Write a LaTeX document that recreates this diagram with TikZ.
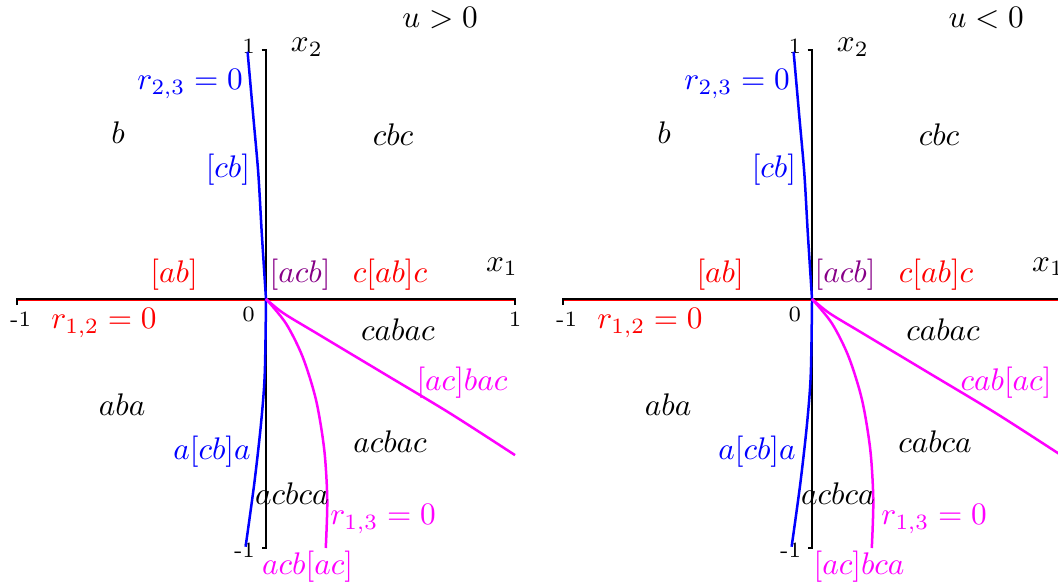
\documentclass[tikz,border=0pt]{standalone}
\usepackage{tikz}
\usetikzlibrary{positioning}
\definecolor{acbviolet}{RGB}{135,0,135}
\definecolor{wallmagenta}{RGB}{255,0,255}
\definecolor{wallblue}{RGB}{0,0,255}
\definecolor{wallred}{RGB}{255,0,0}
\tikzset{
  axisline/.style={black, line width=0.4pt},
  zeroline/.style={line width=0.8pt, color=#1},
  zeroline/.default=wallblue,
  cell/.style={inner sep=0pt, text=black},
  wall/.style={inner sep=0pt, text=#1},
  wall/.default=wallblue,
  ticklabel/.style={font=\scriptsize, inner sep=0.5pt},
}

\begin{document}
\begin{tikzpicture}[x=2.8cm, y=2.8cm]
  \clip (-1.0683,-1.1526) rectangle (3.1807,1.2008);

  % u > 0
  \begin{scope}
    \coordinate (L-o) at (0,0);
    \coordinate (L-xmin) at (-1,0);
    \coordinate (L-xmax) at (1,0);
    \coordinate (L-ymax) at (0,1);
    \coordinate (L-ymin) at (0,-1);
    \draw[zeroline=wallred, line width=0.6pt] ([yshift=-0.45pt]L-xmin) -- ([yshift=-0.45pt]L-xmax);
    \draw[axisline, line width=0.5pt] ([yshift=-0.07cm]L-xmin) -- (L-xmin) -- (L-xmax) -- ([yshift=-0.07cm]L-xmax);
    \draw[axisline] ([xshift=-0.05cm]L-ymax) -- (L-ymax) -- (L-ymin) -- ([xshift=-0.05cm]L-ymin);
    \node[ticklabel, below=0.12cm of L-xmin, xshift=0.04cm] (L-tm1) {-1};
    \node[ticklabel, below=0.12cm of L-xmax] (L-t1) {1};
    \node[ticklabel, below left=0.06cm and 0.1cm of L-o] (L-t0) {0};
    \node[ticklabel, left=0.1cm of L-ymax, yshift=0.04cm] (L-ty1) {1};
    \node[ticklabel, left=0.1cm of L-ymin, yshift=-0.02cm] (L-tym1) {-1};
    \node[anchor=west, inner sep=1pt] at (0.085,1.012) (L-x2) {$x_2$};
    \node[cell] at (0.948,0.129) (L-x1) {$x_1$};
    \node[cell] at (0.699,1.129) (L-sign) {$u>0$};
    % walls
    \draw[zeroline=wallblue] plot[smooth] coordinates {(L-o) (-0.017,0.264) (-0.031,0.505) (-0.051,0.732) (-0.074,0.993)};
    \draw[zeroline=wallblue] plot[smooth] coordinates {(L-o) (-0.005,-0.3) (-0.02,-0.5) (-0.047,-0.74) (-0.082,-0.995)};
    \draw[zeroline=wallmagenta] plot[smooth] coordinates {(L-o) (0.07,-0.057) (0.204,-0.138) (0.471,-0.298) (0.739,-0.459) (1.0,-0.627)};
    \draw[zeroline=wallmagenta] plot[smooth] coordinates {(L-o) (0.08,-0.098) (0.147,-0.232) (0.201,-0.406) (0.234,-0.606) (0.246,-0.807) (0.24,-1.0)};
    % labels
    \node[wall=wallblue] at (-0.305,0.863) (L-r23) {$r_{2,3}=0$};
    \node[cell] at (-0.594,0.667) (L-b) {$b$};
    \node[cell] at (0.510,0.659) (L-cbc) {$cbc$};
    \node[wall=wallblue] at (-0.153,0.518) (L-cb) {$[cb]$};
    \node[wall=wallred] at (-0.369,0.096) (L-ab) {$[ab]$};
    \node[wall=acbviolet] at (0.137,0.096) (L-acb) {$[acb]$};
    \node[wall=wallred] at (0.498,0.096) (L-cabc) {$c[ab]c$};
    \node[wall=wallred] at (-0.651,-0.096) (L-r12) {$r_{1,2}=0$};
    \node[cell] at (0.530,-0.124) (L-cabac) {$cabac$};
    \node[wall=wallmagenta] at (0.787,-0.337) (L-acbac-w) {$[ac]bac$};
    \node[cell] at (-0.578,-0.426) (L-aba) {$aba$};
    \node[wall=wallblue] at (-0.217,-0.614) (L-acba) {$a[cb]a$};
    \node[cell] at (0.498,-0.574) (L-acbac) {$acbac$};
    \node[cell] at (0.104,-0.783) (L-acbca) {$acbca$};
    \node[wall=wallmagenta] at (0.470,-0.884) (L-r13) {$r_{1,3}=0$};
    \node[wall=wallmagenta] at (0.167,-1.076) (L-acbac-b) {$acb[ac]$};
  \end{scope}

  % u < 0
  \begin{scope}[xshift=6.14cm]
    \coordinate (R-o) at (0,0);
    \coordinate (R-xmin) at (-1,0);
    \coordinate (R-xmax) at (1,0);
    \coordinate (R-ymax) at (0,1);
    \coordinate (R-ymin) at (0,-1);
    \draw[zeroline=wallred, line width=0.6pt] ([yshift=-0.45pt]R-xmin) -- ([yshift=-0.45pt]R-xmax);
    \draw[axisline, line width=0.5pt] ([yshift=-0.07cm]R-xmin) -- (R-xmin) -- (R-xmax) -- ([yshift=-0.07cm]R-xmax);
    \draw[axisline] ([xshift=-0.05cm]R-ymax) -- (R-ymax) -- (R-ymin) -- ([xshift=-0.05cm]R-ymin);
    \node[ticklabel, below=0.12cm of R-xmin, xshift=0.04cm] (R-tm1) {-1};
    \node[ticklabel, below left=0.06cm and 0.1cm of R-o] (R-t0) {0};
    \node[ticklabel, left=0.1cm of R-ymax, yshift=0.04cm] (R-ty1) {1};
    \node[ticklabel, left=0.1cm of R-ymin, yshift=-0.02cm] (R-tym1) {-1};
    \node[anchor=west, inner sep=1pt] at (0.085,1.012) (R-x2) {$x_2$};
    \node[cell] at (0.948,0.129) (R-x1) {$x_1$};
    \node[cell] at (0.699,1.129) (R-sign) {$u<0$};
    % walls
    \draw[zeroline=wallblue] plot[smooth] coordinates {(R-o) (-0.017,0.264) (-0.031,0.505) (-0.051,0.732) (-0.074,0.993)};
    \draw[zeroline=wallblue] plot[smooth] coordinates {(R-o) (-0.005,-0.3) (-0.02,-0.5) (-0.047,-0.74) (-0.082,-0.995)};
    \draw[zeroline=wallmagenta] plot[smooth] coordinates {(R-o) (0.07,-0.057) (0.204,-0.138) (0.471,-0.298) (0.739,-0.459) (1.0,-0.627)};
    \draw[zeroline=wallmagenta] plot[smooth] coordinates {(R-o) (0.08,-0.098) (0.147,-0.232) (0.201,-0.406) (0.234,-0.606) (0.246,-0.807) (0.24,-1.0)};
    % labels
    \node[wall=wallblue] at (-0.301,0.863) (R-r23) {$r_{2,3}=0$};
    \node[cell] at (-0.594,0.667) (R-b) {$b$};
    \node[cell] at (0.510,0.659) (R-cbc) {$cbc$};
    \node[wall=wallblue] at (-0.153,0.518) (R-cb) {$[cb]$};
    \node[wall=wallred] at (-0.369,0.096) (R-ab) {$[ab]$};
    \node[wall=acbviolet] at (0.133,0.096) (R-acb) {$[acb]$};
    \node[wall=wallred] at (0.498,0.096) (R-cabc) {$c[ab]c$};
    \node[wall=wallred] at (-0.651,-0.096) (R-r12) {$r_{1,2}=0$};
    \node[cell] at (0.526,-0.124) (R-cabac) {$cabac$};
    \node[wall=wallmagenta] at (0.779,-0.337) (R-cabac-w) {$cab[ac]$};
    \node[cell] at (-0.578,-0.426) (R-aba) {$aba$};
    \node[wall=wallblue] at (-0.221,-0.614) (R-acba) {$a[cb]a$};
    \node[cell] at (0.494,-0.574) (R-cabca) {$cabca$};
    \node[cell] at (0.104,-0.783) (R-acbca) {$acbca$};
    \node[wall=wallmagenta] at (0.490,-0.884) (R-r13) {$r_{1,3}=0$};
    \node[wall=wallmagenta] at (0.189,-1.076) (R-acbca-b) {$[ac]bca$};
  \end{scope}
\end{tikzpicture}
\end{document}
